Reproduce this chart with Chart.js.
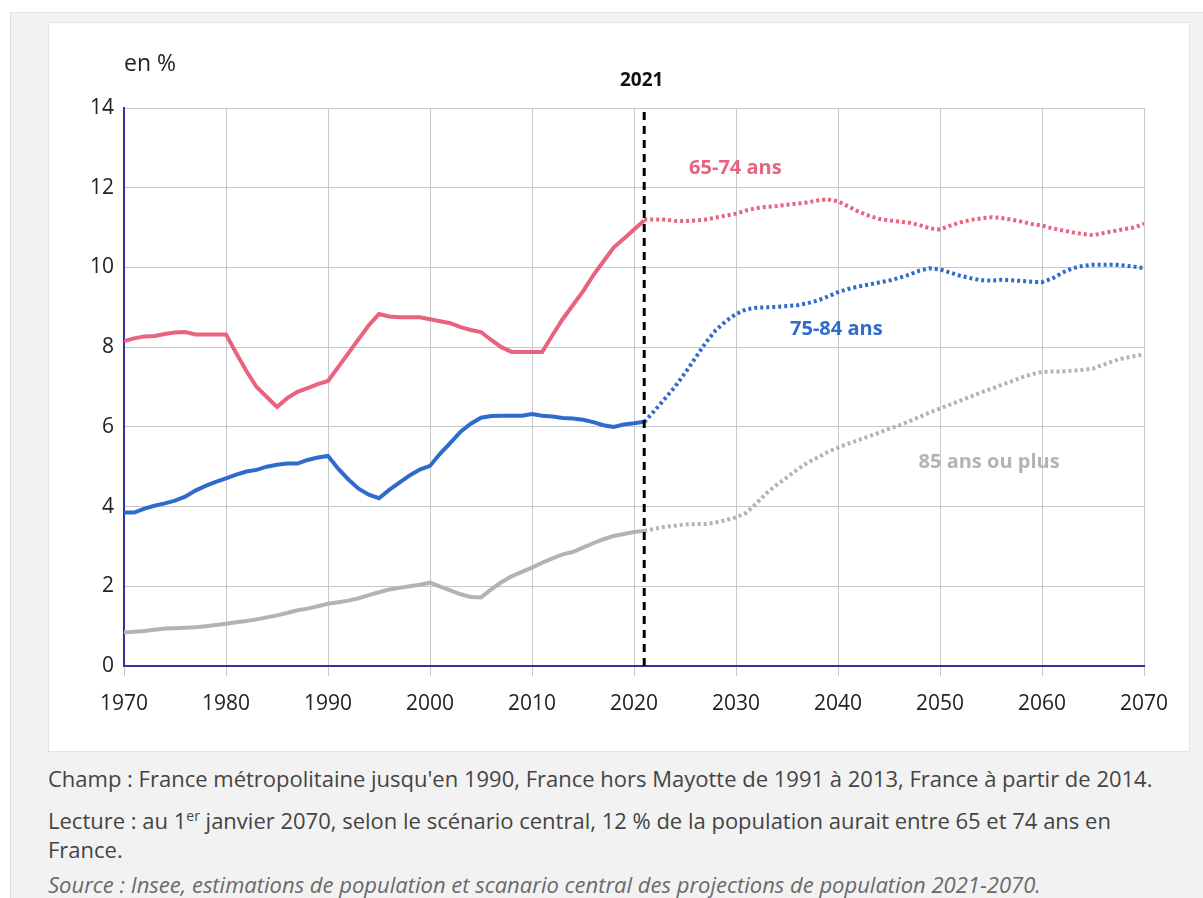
<!DOCTYPE html>
<html lang="fr">
<head>
<meta charset="utf-8">
<script src="https://cdn.jsdelivr.net/npm/chart.js@4.4.1/dist/chart.umd.min.js"></script>
<style>
  html, body { margin: 0; padding: 0; }
  body { width: 1203px; height: 898px; overflow: hidden; background: #fff; font-family: "Open Sans", sans-serif; position: relative; }
  .page { position: absolute; left: 10px; top: 12px; right: 0; bottom: 0; background: #f2f2f2; border-left: 1px solid #dcdcdc; border-top: 1px solid #e6e6e6; }
  .panel { position: absolute; left: 48px; top: 22px; width: 1142px; height: 730px; background: #fff; border: 1px solid #e2e2e2; box-sizing: border-box; }
  .notes { position: absolute; left: 48px; top: 764px; width: 1140px; color: #444; font-size: 22px; line-height: 29px; }
  .notes p { margin: 0 0 13px 0; }
  .notes .src { font-style: italic; color: #6a6a6a; margin-top: 6px; }
</style>
</head>
<body>
<div class="page"></div>
<div class="panel"><canvas id="chart" width="1142" height="730"></canvas></div>
<div class="notes">
  <p>Champ : France métropolitaine jusqu'en 1990, France hors Mayotte de 1991 à 2013, France à partir de 2014.</p>
  <p style="margin-bottom:4px;">Lecture : au 1<sup style="font-size:14px;line-height:0;">er</sup> janvier 2070, selon le scénario central, 12 % de la population aurait entre 65 et 74 ans en France.</p>
  <p class="src">Source : Insee, estimations de population et scanario central des projections de population 2021-2070.</p>
</div>
<script>
// years
const obsYears = Array.from({ length: 52 }, (_, i) => 1970 + i);   // 1970..2021
const projYears = Array.from({ length: 50 }, (_, i) => 2021 + i);  // 2021..2070
const xTicks = [1970, 1980, 1990, 2000, 2010, 2020, 2030, 2040, 2050, 2060, 2070];
const yTicks = [0, 2, 4, 6, 8, 10, 12, 14];

// 65-74 ans, observed then projected (%)
const age6574Obs = [8.15, 8.22, 8.27, 8.28, 8.33, 8.37, 8.38, 8.32, 8.32, 8.32,
  8.32, 7.85, 7.4, 7.0, 6.75, 6.5, 6.72, 6.88, 6.97, 7.07,
  7.15, 7.5, 7.85, 8.2, 8.55, 8.83, 8.77, 8.75, 8.75, 8.75,
  8.7, 8.65, 8.6, 8.5, 8.43, 8.38, 8.18, 8.0, 7.88, 7.88,
  7.88, 7.88, 8.3, 8.7, 9.05, 9.4, 9.8, 10.15, 10.5, 10.72,
  10.95, 11.18];
const age6574Proj = [11.2, 11.2, 11.2, 11.17, 11.16, 11.18, 11.2, 11.25, 11.3, 11.35,
  11.43, 11.49, 11.52, 11.54, 11.57, 11.6, 11.63, 11.68, 11.71, 11.66,
  11.53, 11.4, 11.3, 11.22, 11.18, 11.15, 11.12, 11.06, 10.98, 10.95,
  11.05, 11.13, 11.19, 11.23, 11.26, 11.24, 11.2, 11.15, 11.09, 11.05,
  10.98, 10.93, 10.88, 10.84, 10.81, 10.86, 10.91, 10.96, 11.0, 11.1];

// 75-84 ans
const age7584Obs = [3.85, 3.85, 3.95, 4.02, 4.08, 4.15, 4.25, 4.4, 4.52, 4.62,
  4.71, 4.8, 4.88, 4.92, 5.0, 5.05, 5.08, 5.08, 5.17, 5.23,
  5.27, 4.95, 4.68, 4.45, 4.3, 4.21, 4.42, 4.6, 4.78, 4.93,
  5.02, 5.33, 5.6, 5.88, 6.08, 6.23, 6.27, 6.28, 6.28, 6.28,
  6.32, 6.28, 6.26, 6.22, 6.21, 6.18, 6.12, 6.04, 6.0, 6.06,
  6.09, 6.13];
const age7584Proj = [6.12, 6.4, 6.7, 7.0, 7.35, 7.72, 8.1, 8.42, 8.65, 8.83,
  8.95, 8.99, 9.0, 9.01, 9.03, 9.05, 9.1, 9.17, 9.27, 9.38,
  9.46, 9.52, 9.57, 9.62, 9.67, 9.74, 9.82, 9.92, 9.98, 9.95,
  9.87, 9.79, 9.73, 9.68, 9.67, 9.69, 9.68, 9.66, 9.64, 9.63,
  9.72, 9.87, 9.98, 10.04, 10.07, 10.07, 10.07, 10.05, 10.02, 9.98];

// 85 ans ou plus
const age85Obs = [0.84, 0.86, 0.88, 0.91, 0.94, 0.95, 0.96, 0.97, 1.0, 1.03,
  1.06, 1.1, 1.13, 1.17, 1.22, 1.27, 1.33, 1.4, 1.44, 1.5,
  1.56, 1.6, 1.64, 1.7, 1.78, 1.85, 1.92, 1.96, 2.0, 2.04,
  2.09, 1.99, 1.9, 1.8, 1.73, 1.72, 1.92, 2.1, 2.25, 2.36,
  2.47, 2.59, 2.7, 2.8, 2.86, 2.97, 3.08, 3.18, 3.26, 3.31,
  3.36, 3.39];
const age85Proj = [3.39, 3.44, 3.49, 3.52, 3.55, 3.56, 3.56, 3.6, 3.66, 3.73,
  3.84, 4.08, 4.34, 4.55, 4.73, 4.93, 5.1, 5.23, 5.37, 5.48,
  5.58, 5.67, 5.76, 5.85, 5.95, 6.04, 6.14, 6.25, 6.36, 6.46,
  6.56, 6.66, 6.76, 6.86, 6.95, 7.05, 7.14, 7.24, 7.32, 7.38,
  7.39, 7.39, 7.41, 7.43, 7.46, 7.56, 7.65, 7.72, 7.77, 7.82];

const markerYear = 2021;

const PINK = '#e9627e';
const BLUE = '#2f6bcc';
const GREY = '#b3b3b3';
const AXIS = '#33339a';

const pts = (years, vals) => vals.map((v, i) => ({ x: years[i], y: v }));

function solid(data, color) {
  return { data, borderColor: color, borderWidth: 4, pointRadius: 0, tension: 0, fill: false };
}
function dotted(data, color) {
  return { data, borderColor: color, borderWidth: 4, borderDash: [3, 3], borderCapStyle: 'butt', pointRadius: 0, tension: 0, fill: false };
}

// texts placed in data coordinates
const annotations = [
  { text: '2021', x: 2020.75, y: 14.68, color: '#111', align: 'center', size: 19 },
  { text: '65-74 ans', x: 2025.4, y: 12.49, color: PINK, align: 'left', size: 20 },
  { text: '75-84 ans', x: 2035.3, y: 8.45, color: BLUE, align: 'left', size: 20 },
  { text: '85 ans ou plus', x: 2047.9, y: 5.12, color: GREY, align: 'left', size: 20 },
];

const labelPlugin = {
  id: 'labels',
  afterDraw(chart) {
    const { ctx, scales } = chart;
    ctx.save();
    ctx.textBaseline = 'middle';
    annotations.forEach(a => {
      ctx.font = `bold ${a.size}px "Open Sans", sans-serif`;
      ctx.fillStyle = a.color;
      ctx.textAlign = a.align;
      ctx.fillText(a.text, scales.x.getPixelForValue(a.x), scales.y.getPixelForValue(a.y));
    });
    // unit label
    ctx.font = '23px "Open Sans", sans-serif';
    ctx.fillStyle = '#222';
    ctx.textAlign = 'left';
    ctx.fillText('en %', scales.x.left, 41);
    ctx.restore();
  }
};

new Chart(document.getElementById('chart'), {
  type: 'line',
  data: {
    datasets: [
      // 2021 marker
      { data: [{ x: markerYear, y: 0 }, { x: markerYear, y: 14 }], borderColor: '#000', borderWidth: 3, borderDash: [8, 6], pointRadius: 0, fill: false },
      solid(pts(obsYears, age6574Obs), PINK),
      dotted(pts(projYears, age6574Proj), PINK),
      solid(pts(obsYears, age7584Obs), BLUE),
      dotted(pts(projYears, age7584Proj), BLUE),
      solid(pts(obsYears, age85Obs), GREY),
      dotted(pts(projYears, age85Proj), GREY),
    ]
  },
  options: {
    responsive: false,
    animation: false,
    layout: { padding: { top: 85, right: 47, bottom: 30, left: 0 } },
    plugins: { legend: { display: false }, tooltip: { enabled: false } },
    scales: {
      x: {
        type: 'linear', min: 1970, max: 2070,
        afterBuildTicks: s => { s.ticks = xTicks.map(v => ({ value: v })); },
        afterFit: s => { s.height = 57; },
        grid: { color: '#c8c8c8', lineWidth: 1, tickLength: 10, drawTicks: true },
        border: { color: AXIS, width: 2 },
        ticks: { color: '#222', font: { family: 'Open Sans', size: 21 }, padding: 15, maxRotation: 0, callback: v => String(v) }
      },
      y: {
        min: 0, max: 14,
        afterBuildTicks: s => { s.ticks = yTicks.map(v => ({ value: v })); },
        afterFit: s => { s.width = 75; },
        grid: { color: '#c8c8c8', lineWidth: 1, drawTicks: false },
        border: { color: AXIS, width: 2 },
        ticks: { color: '#222', font: { family: 'Open Sans', size: 21 }, padding: 10 }
      }
    }
  },
  plugins: [labelPlugin]
});
</script>
</body>
</html>
